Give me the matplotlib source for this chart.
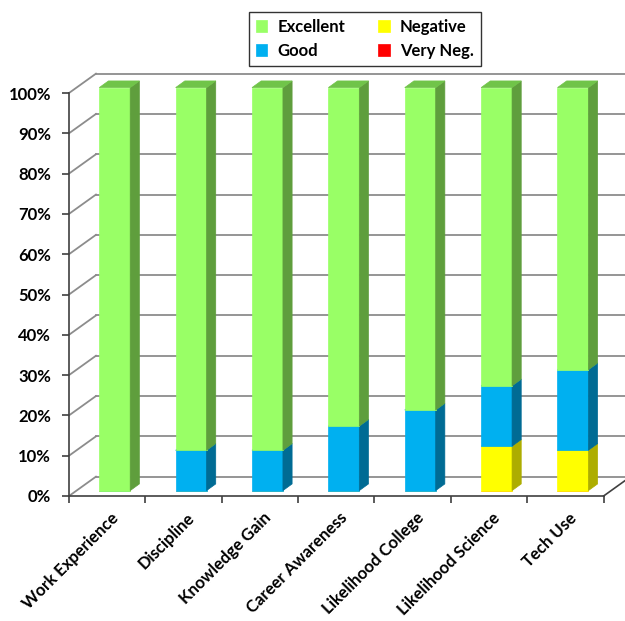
import numpy as np
import matplotlib
matplotlib.use('Agg')
from matplotlib import pyplot as plt
from matplotlib.patches import Polygon
from matplotlib.transforms import ScaledTranslation

plt.rcParams['font.family'] = ['Lato', 'DejaVu Sans']
plt.rcParams['font.weight'] = 'bold'

categories = ['Work Experience', 'Discipline', 'Knowledge Gain', 'Career Awareness',
              'Likelihood College', 'Likelihood Science', 'Tech Use']
very_neg = [0, 0, 0, 0, 0, 0, 0]
negative = [0, 0, 0, 0, 0, 11, 10]
good = [0, 10, 10, 16, 20, 15, 20]
excellent = [100, 90, 90, 84, 80, 74, 70]
y_ticks = [0, 10, 20, 30, 40, 50, 60, 70, 80, 90, 100]

# stacked bottom -> top: (label, values, front, side, top)
series = [
    ('Very Neg.', very_neg, '#FF0000', '#A00000', '#C80000'),
    ('Negative', negative, '#FFFF00', '#ADAD00', '#D6D600'),
    ('Good', good, '#00B0F0', '#006B94', '#0090C4'),
    ('Excellent', excellent, '#99FF66', '#5F9E3D', '#70C449'),
]

# fake 3D geometry (data units)
WALL_DX, WALL_DY = 0.353, 4.8      # depth of back wall
BAR_F0 = 0.28                      # bar front sits this far into the depth
SIDE_DX, SIDE_DY = 0.12, 1.65      # bar depth
BAR_W = 0.405
GRID_C = '#8c8c8c'

fig = plt.figure(figsize=(6.25, 6.21), dpi=100)
ax = fig.add_axes([69/625, 1-496/621, (603.6-69)/625, 403/621])
n = len(categories)
ax.set_xlim(0, n)
ax.set_ylim(0, 100)

# walls: left wall diagonals + back wall gridlines
for v in y_ticks:
    ax.plot([0, WALL_DX], [v, v+WALL_DY], color=GRID_C, lw=1.3, zorder=1, clip_on=False)
    ax.plot([WALL_DX, n+WALL_DX], [v+WALL_DY]*2, color=GRID_C, lw=1.3, zorder=1, clip_on=False)
ax.plot([n, n+WALL_DX], [0, WALL_DY], color='#404040', lw=1.2, zorder=1, clip_on=False)

xc = np.arange(n) + 0.5 + BAR_F0*WALL_DX
y0 = BAR_F0*WALL_DY
bottoms = np.zeros(n)
handles = {}
for label, vals, fc, sc, tc in series:
    vals = np.array(vals, dtype=float)
    bars = ax.bar(xc, vals, BAR_W, bottom=bottoms+y0, color=fc, edgecolor=fc,
                  linewidth=0.5, label=label, zorder=3)
    for b in bars:
        b.set_clip_on(False)
    handles[label] = bars
    for i in range(n):
        if vals[i] <= 0:
            continue
        b = bottoms[i] + y0
        t = b + vals[i]
        r = xc[i] + BAR_W/2
        l = xc[i] - BAR_W/2
        side = Polygon([(r, b), (r+SIDE_DX, b+SIDE_DY), (r+SIDE_DX, t+SIDE_DY), (r, t)],
                       closed=True, facecolor=sc, edgecolor=sc, lw=0.5, zorder=3, clip_on=False)
        top = Polygon([(l, t), (r, t), (r+SIDE_DX, t+SIDE_DY), (l+SIDE_DX, t+SIDE_DY)],
                      closed=True, facecolor=tc, edgecolor=tc, lw=0.5, zorder=3, clip_on=False)
        ax.add_patch(side)
        ax.add_patch(top)
    bottoms = bottoms + vals

# axes
for s in ['top', 'right']:
    ax.spines[s].set_visible(False)
for s in ['left', 'bottom']:
    ax.spines[s].set_color('#404040')
    ax.spines[s].set_linewidth(1.2)
    ax.spines[s].set_zorder(2)

ax.set_yticks(y_ticks)
ax.set_yticklabels([f'{v}%' for v in y_ticks], fontsize=12, fontweight='bold')
ax.tick_params(axis='y', length=5, width=1.2, color='#404040', pad=8)

ax.set_xticks(np.arange(n+1))
ax.set_xticklabels([])
ax.tick_params(axis='x', which='major', length=5, width=1.2, color='#404040')
ax.set_xticks(np.arange(n) + 0.5, minor=True)
ax.set_xticklabels(categories, minor=True, rotation=45, ha='right', va='top',
                   rotation_mode='anchor', fontsize=12, fontweight='bold')
ax.tick_params(axis='x', which='minor', length=0, pad=10)
off = ScaledTranslation(3/100, 0, fig.dpi_scale_trans)
for lab in ax.get_xticklabels(minor=True):
    lab.set_transform(lab.get_transform() + off)

order = ['Excellent', 'Good', 'Negative', 'Very Neg.']
leg = fig.legend([handles[k] for k in order], order, ncol=2, loc='upper left',
                 bbox_to_anchor=(249/625, 1-12/621), borderaxespad=0,
                 frameon=True, fancybox=False,
                 edgecolor='black', handlelength=0.7, handleheight=0.7,
                 handletextpad=0.6, columnspacing=2.0, borderpad=0.4,
                 labelspacing=0.5, prop={'weight': 'bold', 'size': 12})
leg.get_frame().set_linewidth(1.0)

fig.savefig('out.png', dpi=100)
